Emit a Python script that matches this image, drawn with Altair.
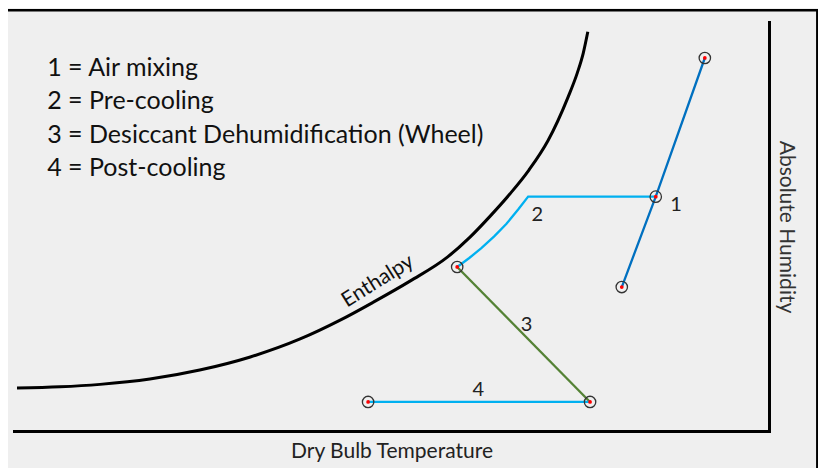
import altair as alt
import pandas as pd

# ---- values (chart units: x = dry bulb 0-100, y = absolute humidity 0-100)
curve_x = [0.4, 6.1, 11.4, 18.0, 24.6, 31.3, 37.9, 43.2, 47.6, 52.5, 57.4, 60.4, 63.1, 65.7, 68.2, 70.7, 73.4, 74.6, 75.4, 76.0]
curve_y = [10.5, 10.8, 11.4, 12.7, 14.9, 18.1, 22.5, 27.1, 31.5, 36.7, 42.5, 47.4, 52.6, 58.0, 63.8, 70.9, 81.7, 87.5, 92.4, 97.6]

proc1_x = [80.5, 85.0, 91.5]
proc1_y = [35.2, 57.3, 91.2]
proc2_x = [85.0, 68.1, 66.8, 65.2, 63.6, 61.9, 60.3, 58.7]
proc2_y = [57.3, 57.3, 54.2, 50.6, 47.6, 44.7, 42.3, 40.1]
proc3_x = [58.7, 76.3]
proc3_y = [40.1, 7.1]
proc4_x = [46.9, 76.3]
proc4_y = [7.1, 7.1]

state_x = [91.5, 85.0, 80.5, 58.7, 76.3, 46.9]
state_y = [91.2, 57.3, 35.2, 40.1, 7.1, 7.1]

step_labels = ["1", "2", "3", "4"]
step_x = [87.7, 69.3, 67.9, 61.5]
step_y = [55.3, 52.8, 25.9, 10.0]

legend_lines = ["1 = Air mixing", "2 = Pre-cooling",
                "3 = Desiccant Dehumidification (Wheel)", "4 = Post-cooling"]
legend_x = [4.4, 4.4, 4.4, 4.4]
legend_y = [88.8, 80.7, 72.4, 64.3]

curve_label = ["Enthalpy"]
curve_label_x = [48.2]
curve_label_y = [36.6]

frame_x = [-0.8, 106.4, 106.4]
frame_y = [102.9, 102.9, -9.1]

proc_colors = ["#0070C0", "#00B0F0", "#548235", "#00B0F0"]

# ---- tables
curve_df = pd.DataFrame({"x": curve_x, "y": curve_y, "i": range(len(curve_x))})
frame_df = pd.DataFrame({"x": frame_x, "y": frame_y, "i": range(len(frame_x))})
rows = []
for p, (xs_, ys_) in zip(step_labels, [(proc1_x, proc1_y), (proc2_x, proc2_y),
                                         (proc3_x, proc3_y), (proc4_x, proc4_y)]):
    for k, (a, b) in enumerate(zip(xs_, ys_)):
        rows.append({"proc": p, "x": a, "y": b, "i": k})
proc_df = pd.DataFrame(rows)
state_df = pd.DataFrame({"x": state_x, "y": state_y})
step_df = pd.DataFrame({"x": step_x, "y": step_y, "t": step_labels})
legend_df = pd.DataFrame({"x": legend_x, "y": legend_y, "t": legend_lines})
clabel_df = pd.DataFrame({"x": curve_label_x, "y": curve_label_y, "t": curve_label})

FONT = "Lato"
xs = alt.Scale(domain=[0, 100], nice=False, zero=False)
ys = alt.Scale(domain=[0, 100], nice=False, zero=False)
x_axis = alt.Axis(title="Dry Bulb Temperature", domain=True, domainColor="black",
                  domainWidth=3, domainCap="square", ticks=False, labels=False, grid=False,
                  titleFont=FONT, titleFontSize=21, titleFontWeight="normal",
                  titleColor="#222222", titlePadding=9)
y_axis = alt.Axis(orient="right", title="Absolute Humidity", domain=True, domainColor="black",
                  domainWidth=3, domainCap="square", ticks=False, labels=False, grid=False,
                  titleFont=FONT, titleFontSize=21, titleFontWeight="normal",
                  titleColor="#333333", titleAngle=90, titlePadding=6)


def X():
    return alt.X("x:Q", scale=xs, axis=x_axis)


def Y():
    return alt.Y("y:Q", scale=ys, axis=y_axis)


frame = alt.Chart(frame_df).mark_line(color="black", strokeWidth=2.5).encode(
    x=X(), y=Y(), order="i:Q")
curve = alt.Chart(curve_df).mark_line(color="black", strokeWidth=3, interpolate="monotone").encode(
    x=X(), y=Y(), order="i:Q")
procs = alt.Chart(proc_df).mark_line(strokeWidth=2.3).encode(
    x=X(), y=Y(), order="i:Q",
    color=alt.Color("proc:N", scale=alt.Scale(domain=step_labels, range=proc_colors), legend=None))
rings = alt.Chart(state_df).mark_point(shape="circle", size=130, filled=False,
                                       stroke="#333333", strokeWidth=1.3, opacity=1).encode(x=X(), y=Y())
dots = alt.Chart(state_df).mark_point(shape="circle", size=14, filled=True,
                                      color="#ff0000", opacity=1).encode(x=X(), y=Y())
steps = alt.Chart(step_df).mark_text(font=FONT, fontSize=20, color="#222222").encode(
    x=X(), y=Y(), text="t:N")
legend = alt.Chart(legend_df).mark_text(font=FONT, fontSize=25, color="#111111",
                                        align="left", baseline="middle").encode(
    x=X(), y=Y(), text="t:N")
clabel = alt.Chart(clabel_df).mark_text(font=FONT, fontSize=21, color="#111111", angle=328).encode(
    x=X(), y=Y(), text="t:N")

chart = alt.layer(frame, curve, procs, rings, dots, steps, legend, clabel).properties(
    width=755, height=409,
    background="#efefef",
    padding={"left": 6, "top": 14, "right": 49, "bottom": 37},
    autosize=alt.AutoSizeParams(type="none"),
).configure_view(stroke=None)

chart.save("out.html", embed_options={"renderer": "svg", "actions": False})
